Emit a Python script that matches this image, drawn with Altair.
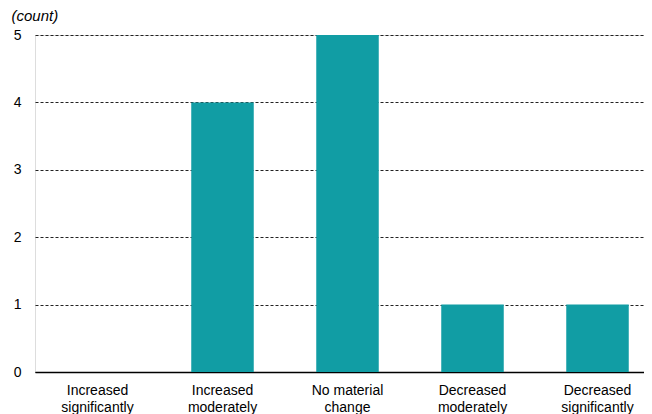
import altair as alt
import pandas as pd

categories = ["Increased significantly", "Increased moderately", "No material change",
              "Decreased moderately", "Decreased significantly"]
labels = [["Increased", "significantly"], ["Increased", "moderately"], ["No material", "change"],
          ["Decreased", "moderately"], ["Decreased", "significantly"]]
counts = [0, 4, 5, 1, 1]

df = pd.DataFrame({"cat": categories, "count": counts})
label_map = {c: l for c, l in zip(categories, labels)}
label_expr = "{" + ",".join(f'"{c}": ["{l[0]}", "{l[1]}"]' for c, l in label_map.items()) + "}[datum.value]"

font = "Liberation Sans"

chart = alt.Chart(df).mark_bar(color="#119DA4").encode(
    x=alt.X("cat:N", sort=categories, title=None,
            scale=alt.Scale(paddingInner=0.5, paddingOuter=0.25, range=[0, 625]),
            axis=alt.Axis(labelAngle=0, labelExpr=label_expr, ticks=False,
                          domainColor="black", domainWidth=1.5, labelPadding=11,
                          labelFontSize=14, labelColor="black", labelLineHeight=17,
                          labelBaseline="top", grid=False)),
    y=alt.Y("count:Q", scale=alt.Scale(domain=[0, 5]),
            axis=alt.Axis(values=[0, 1, 2, 3, 4, 5], format="d", ticks=False, domain=False,
                          grid=True, gridColor="#222222", gridDash=[3, 2], gridWidth=1,
                          labelPadding=14, labelFontSize=14, labelColor="black",
                          title="(count)", titleAngle=0, titleX=-24, titleY=-27,
                          titleAlign="left", titleBaseline="top", titleFontStyle="italic",
                          titleFontWeight="normal", titleFontSize=15, titleColor="black")),
).properties(
    width=609, height=337,
    autosize=alt.AutoSizeParams(type="none"),
    padding={"left": 27, "top": 27, "right": 0, "bottom": 44},
).configure_view(stroke=None).configure(font=font)

chart.save("out.html", embed_options={"renderer": "svg", "actions": False})
